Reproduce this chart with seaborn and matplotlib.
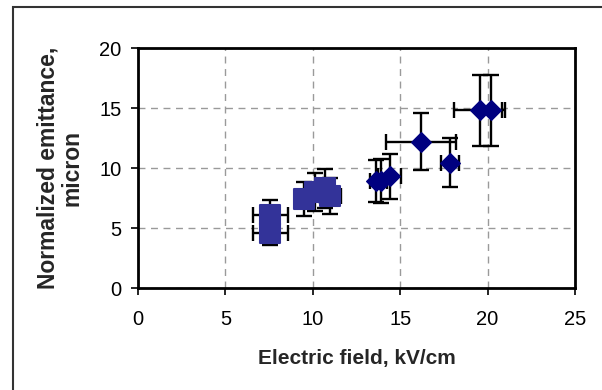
import matplotlib
matplotlib.use('agg')
import matplotlib.pyplot as plt
import seaborn as sns
import pandas as pd
from matplotlib.patches import Rectangle

# squares (lower field series)
sq_field = [7.57, 7.57, 9.5, 10.1, 10.7, 11.0]
sq_emit = [4.55, 6.1, 7.4, 8.0, 8.3, 7.7]
sq_xerr = [1.0, 1.0, 0.35, 0.35, 0.4, 0.6]
sq_yerr = [1.0, 1.25, 1.4, 1.6, 1.6, 1.5]

# diamonds (higher field series)
dm_field = [13.6, 13.9, 14.4, 16.2, 17.85, 19.55, 20.2]
dm_emit = [8.9, 8.9, 9.3, 12.2, 10.45, 14.8, 14.8]
dm_xerr = [0.3, 0.35, 0.65, 2.0, 0.5, 1.45, 0.6]
dm_yerr = [1.75, 1.85, 1.9, 2.4, 2.07, 2.95, 2.95]

sns.set_style("white")
plt.rcParams['font.family'] = ['Liberation Sans', 'DejaVu Sans']

fig = plt.figure(figsize=(6.02, 3.90), dpi=100)
ax = fig.add_axes([138 / 602, 1 - 288 / 390, (575 - 138) / 602, (288 - 48) / 390])

# outer chart frame
fig.patches.append(Rectangle((13 / 602, -0.1), 1.2, 1 - 7 / 390 + 0.1, transform=fig.transFigure,
                             fill=False, edgecolor='#333333', linewidth=1.5, zorder=0))

ax.errorbar(sq_field, sq_emit, xerr=sq_xerr, yerr=sq_yerr, fmt='none', ecolor='black',
            elinewidth=1.7, capsize=5.5, capthick=1.7, zorder=2)
ax.errorbar(dm_field, dm_emit, xerr=dm_xerr, yerr=dm_yerr, fmt='none', ecolor='black',
            elinewidth=1.7, capsize=5.5, capthick=1.7, zorder=2)

sq = pd.DataFrame({'field': sq_field, 'emit': sq_emit})
dm = pd.DataFrame({'field': dm_field, 'emit': dm_emit})
sns.scatterplot(data=sq, x='field', y='emit', ax=ax, marker='s', s=200, color='#333399',
                edgecolor='#333399', linewidth=1.5, zorder=3)
sns.scatterplot(data=dm, x='field', y='emit', ax=ax, marker='D', s=100, color='#000080',
                edgecolor='#000080', linewidth=1, zorder=3)

ax.set_xlim(0, 25)
ax.set_ylim(0, 20)
ax.set_xticks([0, 5, 10, 15, 20, 25])
ax.set_yticks([0, 5, 10, 15, 20])
ax.grid(True, color='#9a9a9a', linestyle=(0, (5, 4)), linewidth=1)
ax.tick_params(axis='both', direction='out', length=5, width=1.2, labelsize=14.5,
               bottom=True, left=True, colors='black')
ax.tick_params(axis='x', pad=11)
ax.tick_params(axis='y', pad=7)
for sp in ax.spines.values():
    sp.set_color('black')
    sp.set_linewidth(2)

ax.set_xlabel('Electric field, kV/cm', fontsize=15, fontweight='bold', labelpad=14)
ax.set_ylabel('Normalized emittance,\nmicron', fontsize=16.5, fontweight='bold', labelpad=11,
              linespacing=1.1)

fig.savefig('out.png', dpi=100)
